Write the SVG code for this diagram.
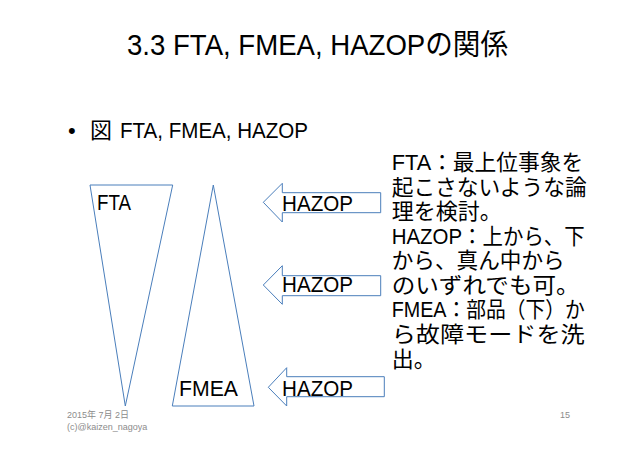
<svg xmlns="http://www.w3.org/2000/svg" width="638" height="451" viewBox="0 0 638 451">
<style>
.t{font-family:"Liberation Sans","Noto Sans CJK JP",sans-serif;fill:#000}
.shape{fill:#fff;stroke:#4a7ebb;stroke-width:1}
.small{font-family:"Liberation Sans","Noto Sans CJK JP",sans-serif;fill:#8c8c8c;font-size:9px}
</style>
<rect width="638" height="451" fill="#fff"/>
<text class="t" x="127" y="55" font-size="29" textLength="381" lengthAdjust="spacingAndGlyphs">3.3 FTA, FMEA, HAZOPの関係</text>
<text class="t" x="68" y="138" font-size="22">•</text>
<text class="t" x="90" y="138" font-size="22">図</text>
<text class="t" x="120" y="138" font-size="22" textLength="188" lengthAdjust="spacingAndGlyphs">FTA, FMEA, HAZOP</text>
<g id="fta">
<polygon class="shape" points="90,185 172.7,185 125.3,406"/>
<text class="t" x="97" y="210" font-size="22" textLength="34" lengthAdjust="spacingAndGlyphs">FTA</text>
</g>
<g id="fmea">
<polygon class="shape" points="213.3,185 254,406 172.3,406"/>
<text class="t" x="179" y="396" font-size="22" textLength="59" lengthAdjust="spacingAndGlyphs">FMEA</text>
</g>
<g id="connectors">
<g id="hazop1">
<polygon class="shape" points="263.3,202.3 282.3,183.3 282.3,192.7 380.7,192.7 380.7,212.7 282.3,212.7 282.3,222"/>
<text class="t" x="282" y="211" font-size="22" textLength="71" lengthAdjust="spacingAndGlyphs">HAZOP</text>
</g>
<g id="hazop2">
<polygon class="shape" points="263.3,285 282.3,265.7 282.3,275.7 380.7,275.7 380.7,295.7 282.3,295.7 282.3,304.3"/>
<text class="t" x="282" y="292" font-size="22" textLength="71" lengthAdjust="spacingAndGlyphs">HAZOP</text>
</g>
<g id="hazop3">
<polygon class="shape" points="268.3,387.3 286.7,367.7 286.7,376.7 384.3,376.7 384.3,396.7 286.7,396.7 286.7,406"/>
<text class="t" x="282" y="396" font-size="22" textLength="71" lengthAdjust="spacingAndGlyphs">HAZOP</text>
</g>
</g>
<g id="notes" class="t" font-size="22">
<text x="391.7" y="170" textLength="191.6" lengthAdjust="spacingAndGlyphs">FTA：最上位事象を</text>
<text x="391.7" y="195" textLength="195" lengthAdjust="spacingAndGlyphs">起こさないような論</text>
<text x="391.7" y="219">理を検討。</text>
<text x="391.7" y="243.5" textLength="193" lengthAdjust="spacingAndGlyphs">HAZOP：上から、下</text>
<text x="391.7" y="268" textLength="173" lengthAdjust="spacingAndGlyphs">から、真ん中から</text>
<text x="391.7" y="292.7" textLength="188" lengthAdjust="spacingAndGlyphs">のいずれでも可。</text>
<text x="391.7" y="317" textLength="193" lengthAdjust="spacingAndGlyphs">FMEA：部品（下）か</text>
<text x="391.7" y="341.7" textLength="193" lengthAdjust="spacingAndGlyphs">ら故障モードを洗</text>
<text x="391.7" y="366.5">出。</text>
</g>
<text class="small" x="67" y="418">2015年 7月 2日</text>
<text class="small" x="67" y="430">(c)@kaizen_nagoya</text>
<text class="small" x="560" y="418">15</text>
</svg>
